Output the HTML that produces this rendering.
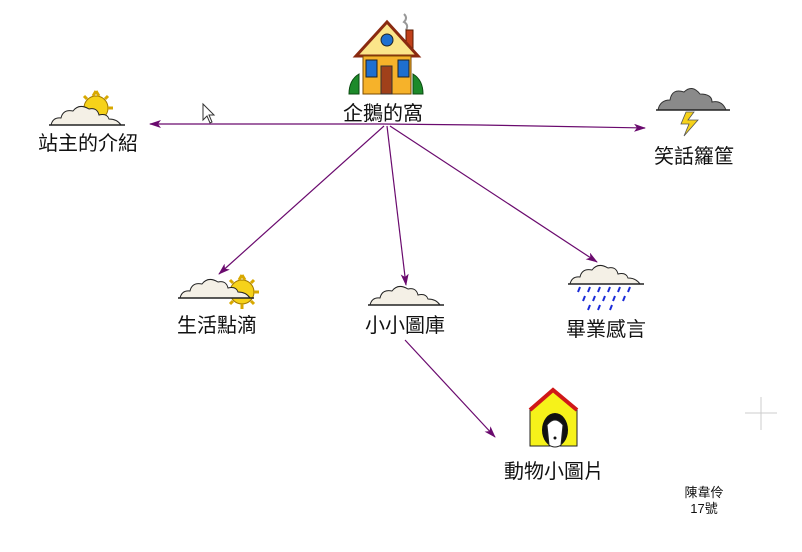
<!DOCTYPE html>
<html><head><meta charset="utf-8"><style>
html,body{margin:0;padding:0;background:#fff;}
svg{display:block;}
text{font-family:"Liberation Sans","Noto Sans CJK TC",sans-serif;fill:#111;}
</style></head><body>
<svg width="802" height="552" viewBox="0 0 802 552" xmlns="http://www.w3.org/2000/svg">
<defs>
<marker id="a" markerWidth="12" markerHeight="8" refX="11" refY="4" orient="auto" markerUnits="userSpaceOnUse">
<path d="M0,0 L12,4 L0,8 L3,4 Z" fill="#6a0a6e"/></marker>
<g id="cloud"><path d="M2,22 Q4,14 12,15 Q14,6 24,8 Q30,0 40,6 Q48,4 50,12 Q58,10 60,16 Q68,16 72,22 Z" fill="#f4f0e6" stroke="#222" stroke-width="1"/><line x1="0" y1="22" x2="76" y2="22" stroke="#222" stroke-width="1.5"/></g>
<g id="sun"><circle r="12" fill="#f6d21a" stroke="#a07800"/><path d="M0,-17 L3,-12 M0,-17 L-3,-12 M12,-12 L9,-9 M-12,-12 L-9,-9 M17,0 L12,0 M-17,0 L-12,0 M12,12 L9,9 M-12,12 L-9,9 M0,17 L0,12" stroke="#d8a800" stroke-width="3"/></g>
</defs>

<!-- connectors -->
<g stroke="#6a0a6e" stroke-width="1.2" fill="none">
<line x1="382" y1="124" x2="150" y2="124" marker-end="url(#a)"/>
<polyline points="382,124 480,125 645,128" marker-end="url(#a)"/>
<line x1="384" y1="126" x2="219" y2="274" marker-end="url(#a)"/>
<line x1="387" y1="126" x2="406" y2="285" marker-end="url(#a)"/>
<line x1="390" y1="126" x2="597" y2="262" marker-end="url(#a)"/>
<line x1="405" y1="340" x2="495" y2="437" marker-end="url(#a)"/>
</g>

<!-- cursor -->
<path d="M203,104 L203,120 L207,116 L210,123 L212,122 L209,115 L214,115 Z" fill="#fff" stroke="#333" stroke-width="1"/>

<!-- house -->
<g>
<path d="M404,14 q4,4 0,8 q5,3 2,8" fill="none" stroke="#999" stroke-width="2"/>
<rect x="406" y="30" width="7" height="20" fill="#c0401a" stroke="#5a1a00"/>
<polygon points="387,22 356,56 418,56" fill="#fbe58a" stroke="#8a2a10" stroke-width="3"/>
<circle cx="387" cy="40" r="6" fill="#1e6fd0" stroke="#222"/>
<rect x="363" y="56" width="48" height="38" fill="#f6b22a" stroke="#7a4a00"/>
<rect x="366" y="60" width="11" height="17" fill="#1e6fd0" stroke="#222"/>
<rect x="398" y="60" width="11" height="17" fill="#1e6fd0" stroke="#222"/>
<rect x="381" y="66" width="11" height="28" fill="#a0401a" stroke="#333"/>
<path d="M349,94 q0,-14 10,-20 l0,20 Z M423,94 q0,-14 -10,-20 l0,20 Z" fill="#1d8a2a" stroke="#0a4a10"/>
</g>
<text x="383" y="120" font-size="20" text-anchor="middle">企鵝的窩</text>

<!-- 站主的介紹 -->
<use href="#sun" x="96" y="108"/>
<use href="#cloud" x="49" y="103"/>
<text x="88" y="150" font-size="20" text-anchor="middle">站主的介紹</text>

<!-- 笑話籮筐 -->
<path d="M658,110 Q660,100 670,100 Q672,88 684,92 Q692,84 700,94 Q712,94 712,102 Q722,100 726,110 Z" fill="#8a8a8a" stroke="#333"/>
<line x1="656" y1="110" x2="730" y2="110" stroke="#222" stroke-width="1.5"/>
<polygon points="686,112 694,112 688,120 698,120 684,136 689,124 681,124" fill="#f6d21a" stroke="#555" stroke-width="0.8"/>
<text x="694" y="163" font-size="20" text-anchor="middle">笑話籮筐</text>

<!-- 生活點滴 -->
<use href="#sun" x="242" y="292"/>
<use href="#cloud" x="178" y="276"/>
<text x="217" y="332" font-size="20" text-anchor="middle">生活點滴</text>

<!-- 小小圖庫 -->
<use href="#cloud" x="368" y="283"/>
<text x="405" y="332" font-size="20" text-anchor="middle">小小圖庫</text>

<!-- 畢業感言 -->
<use href="#cloud" x="568" y="262"/>
<g stroke="#1a2ad8" stroke-width="2">
<path d="M580,287 l-2,5 M590,287 l-2,5 M600,287 l-2,5 M610,287 l-2,5 M620,287 l-2,5 M630,287 l-2,5 M585,296 l-2,5 M595,296 l-2,5 M605,296 l-2,5 M615,296 l-2,5 M625,296 l-2,5 M590,305 l-2,5 M600,305 l-2,5 M612,305 l-2,5"/>
</g>
<text x="606" y="336" font-size="20" text-anchor="middle">畢業感言</text>

<!-- doghouse -->
<polygon points="553,390 530,410 530,446 577,446 577,410" fill="#f6f21a" stroke="#222"/>
<polyline points="530,410 553,390 577,410" fill="none" stroke="#d01818" stroke-width="4"/>
<ellipse cx="555" cy="430" rx="13" ry="17" fill="#111"/>
<path d="M547,425 q8,-10 16,0 l-2,20 q-6,4 -12,0 Z" fill="#fff" stroke="#222"/>
<circle cx="555" cy="438" r="1.5" fill="#111"/>
<text x="554" y="478" font-size="20" text-anchor="middle">動物小圖片</text>

<!-- author -->
<text x="704" y="497" font-size="13" text-anchor="middle">陳韋伶</text>
<text x="704" y="513" font-size="13" text-anchor="middle">17號</text>

<!-- plus mark -->
<path d="M745,413 L777,413 M761,397 L761,430" stroke="#ccc" stroke-width="1"/>
</svg>
</body></html>
